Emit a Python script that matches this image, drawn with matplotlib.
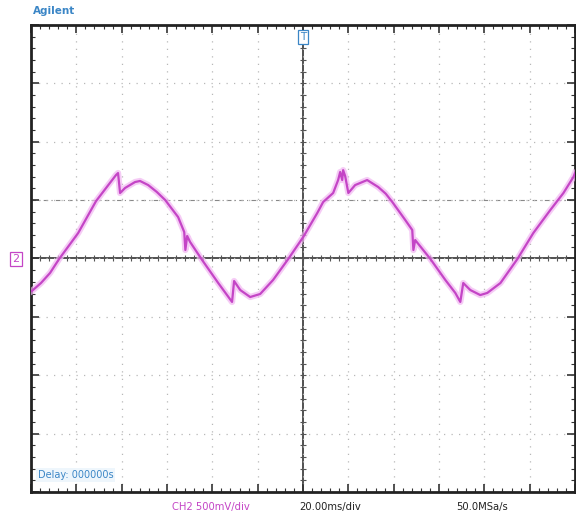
import numpy as np
import matplotlib
matplotlib.use("Agg")
import matplotlib.pyplot as plt

# ── Captured trace (time in ms, voltage in mV) ──────────────────────────────
time_ms = [-119.6, -115.6, -111.6, -107.6, -99.2, -91.3, -82.5, -81.6, -80.7,
           -78.5, -74.1, -71.9, -68.3, -64.5, -60.8, -55.1, -52.4, -51.9, -51.1,
           -49.8, -44.5, -37.4, -31.3, -30.4, -27.7, -23.3, -18.9, -13.2, -6.5,
           0.1, 6.3, 8.9, 13.3, 15.5, 16.4, 17.3, 17.7, 18.6, 20.0, 23.0, 28.3,
           33.2, 36.5, 39.4, 45.1, 48.2, 48.7, 49.5, 56.2, 62.8, 67.2, 69.4,
           70.7, 73.8, 78.2, 81.3, 87.1, 94.6, 101.6, 109.1, 114.9, 119.3, 120.0]
volt_mv = [-278, -210, -124, -4, 218, 492, 715, 732, 561,
           604, 655, 664, 629, 570, 501, 355, 227, 73, 193,
           141, -13, -210, -372, -193, -270, -330, -304, -184, -4,
           184, 390, 484, 561, 672, 741, 672, 757, 706, 561, 629, 672,
           612, 555, 484, 330, 244, 73, 158, -4, -184, -295, -372,
           -210, -270, -313, -295, -210, -4, 218, 415, 561, 698, 732]

# scope settings
MS_PER_DIV = 20.0
MV_PER_DIV = 500.0
H_DIVS = 12
V_DIVS = 8
TRIG_LEVEL_MV = 500.0

CH2_LABEL = "CH2 500mV/div"
TIME_LABEL = "20.00ms/div"
RATE_LABEL = "50.0MSa/s"
DELAY_LABEL = "Delay: 000000s"

TRACE = "#c445c6"
HALO = "#f2b6f2"
BLUE = "#3b86c6"
NARROW = ["Liberation Sans Narrow", "DejaVu Sans"]

fig = plt.figure(figsize=(5.76, 5.2), dpi=100)
ax = fig.add_axes([31 / 576, 1 - 492 / 520, 544 / 576, 467 / 520])

xmax = H_DIVS / 2 * MS_PER_DIV
ymax = V_DIVS / 2 * MV_PER_DIV
ax.set_xlim(-xmax, xmax)
ax.set_ylim(-ymax, ymax)

# dotted grid at every division
ax.set_xticks(np.arange(-xmax, xmax + 1, MS_PER_DIV))
ax.set_yticks(np.arange(-ymax, ymax + 1, MV_PER_DIV))
ax.set_xticks(np.arange(-xmax, xmax + 1, MS_PER_DIV / 5), minor=True)
ax.set_yticks(np.arange(-ymax, ymax + 1, MV_PER_DIV / 5), minor=True)
ax.grid(True, which="major", color="#b8b8b8", linestyle=(0, (1, 5)), linewidth=0.9)
ax.tick_params(which="both", direction="in", top=True, right=True,
               labelbottom=False, labelleft=False, color="#333333")
ax.tick_params(which="major", length=6, width=1.2)
ax.tick_params(which="minor", length=3, width=0.8)
for s in ax.spines.values():
    s.set_linewidth(2.0)
    s.set_color("#222222")

# center cross with small ticks
ax.axhline(0, color="#333333", lw=1.2, zorder=1)
ax.axvline(0, color="#333333", lw=1.2, zorder=1)
xt = np.arange(-xmax, xmax + 1, MS_PER_DIV / 5)
yt = np.arange(-ymax, ymax + 1, MV_PER_DIV / 5)
ax.plot(xt, np.zeros_like(xt), ls="none", marker="|", ms=4, mew=0.8, color="#555555")
ax.plot(np.zeros_like(yt), yt, ls="none", marker="_", ms=4, mew=0.8, color="#555555")

# trigger level line
ax.axhline(TRIG_LEVEL_MV, color="#888888", lw=0.8, ls=(0, (4, 3, 1, 3)), zorder=1)

# trace
ax.plot(time_ms, volt_mv, color=HALO, lw=4.5, alpha=0.7, solid_joinstyle="round", zorder=3)
ax.plot(time_ms, volt_mv, color=TRACE, lw=1.6, solid_joinstyle="round", zorder=4)

# annotations
fig.text(33 / 576, 1 - 11 / 520, "Agilent", color=BLUE, fontsize=7.5,
         fontweight="bold", ha="left", va="center")
ax.text(0, ymax - 0.12 * MV_PER_DIV, "T", color=BLUE, fontsize=7.5, ha="center", va="top",
        bbox=dict(boxstyle="square,pad=0.2", fc="white", ec=BLUE, lw=0.9))
fig.text(16 / 576, 1 - 259 / 520, "2", color=TRACE, fontsize=8, ha="center", va="center",
         bbox=dict(boxstyle="square,pad=0.2", fc="white", ec=TRACE, lw=0.9))
ax.text(0.012, 0.025, DELAY_LABEL, transform=ax.transAxes, color=BLUE, fontsize=7,
        ha="left", va="bottom", family=NARROW,
        bbox=dict(boxstyle="square,pad=0.2", fc="#eef6fc", ec="none"))

fig.text(211 / 576, 1 - 507 / 520, CH2_LABEL, color=TRACE, fontsize=7.2,
         ha="center", va="center", family=NARROW)
fig.text(330 / 576, 1 - 507 / 520, TIME_LABEL, color="#222222", fontsize=7.2,
         ha="center", va="center", family=NARROW)
fig.text(482 / 576, 1 - 507 / 520, RATE_LABEL, color="#222222", fontsize=7.2,
         ha="center", va="center", family=NARROW)

fig.savefig("out.png", dpi=100)
